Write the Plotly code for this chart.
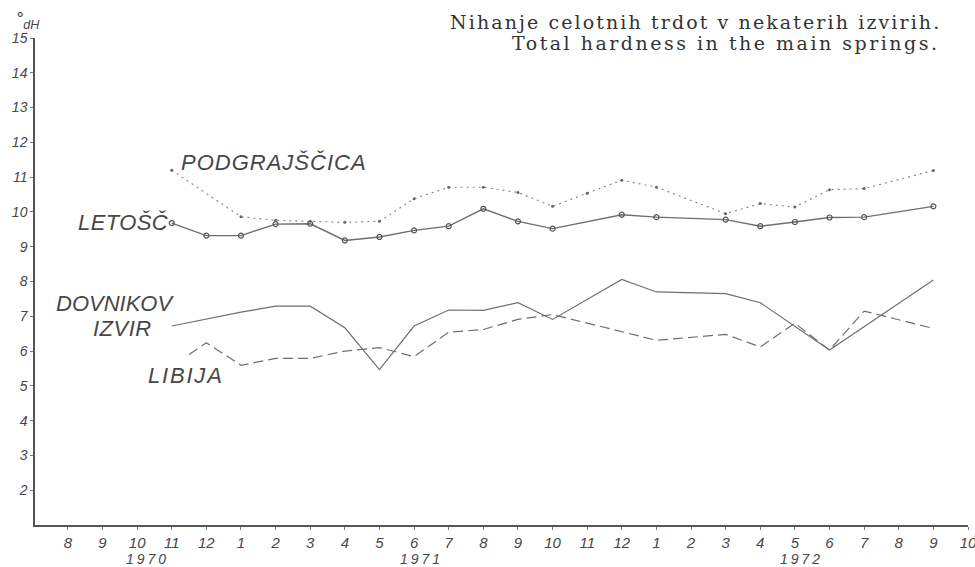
import plotly.graph_objects as go

# month ticks, Aug 1970 .. Oct 1972
month_labels = ["8", "9", "10", "11", "12",
                "1", "2", "3", "4", "5", "6", "7", "8", "9", "10", "11", "12",
                "1", "2", "3", "4", "5", "6", "7", "8", "9", "10"]
year_labels = ["1970", "1971", "1972"]
year_pos = [2.3, 10.2, 21.2]

# total hardness (°dH), x = month index from Aug 1970
podgrajscica_x = [3, 5, 6, 7, 8, 9, 10, 11, 12, 13, 14, 15, 16, 17, 19, 20, 21, 22, 23, 25]
podgrajscica_y = [11.2, 9.86, 9.76, 9.73, 9.70, 9.73, 10.38, 10.71, 10.71, 10.56,
                  10.16, 10.54, 10.91, 10.71, 9.95, 10.24, 10.14, 10.64, 10.67, 11.19]

letosc_x = [3, 4, 5, 6, 7, 8, 9, 10, 11, 12, 13, 14, 16, 17, 19, 20, 21, 22, 23, 25]
letosc_y = [9.68, 9.32, 9.32, 9.65, 9.66, 9.18, 9.28, 9.47, 9.59, 10.09,
            9.73, 9.52, 9.92, 9.85, 9.78, 9.59, 9.71, 9.84, 9.85, 10.16]

dovnikov_x = [3, 5, 6, 7, 8, 9, 10, 11, 12, 13, 14, 16, 17, 19, 20, 22, 25]
dovnikov_y = [6.72, 7.12, 7.29, 7.29, 6.67, 5.47, 6.72, 7.18, 7.17, 7.39,
              6.91, 8.06, 7.70, 7.65, 7.39, 6.03, 8.04]

libija_x = [3.5, 4, 5, 6, 7, 8, 9, 10, 11, 12, 13, 14, 17, 19, 20, 21, 22, 23, 25]
libija_y = [5.90, 6.24, 5.59, 5.79, 5.79, 6.0, 6.10, 5.84, 6.54, 6.62,
            6.91, 7.05, 6.31, 6.48, 6.12, 6.8, 6.03, 7.15, 6.65]

line_col = "#6f6f6f"
text_col = "#474747"
hand_font = "Liberation Sans"
serif_font = "DejaVu Serif"

# plot area in pixels (used to place the free text)
PL, PR, PT, PB = 35, 968, 38, 525


def px_x(px):
    return (px - PL) / (PR - PL)


def px_y(px):
    return (PB - px) / (PB - PT)


def spaced(txt, sp):
    return f'<span style="letter-spacing:{sp}px">{txt}</span>'


fig = go.Figure()

fig.add_trace(go.Scatter(
    x=podgrajscica_x, y=podgrajscica_y, mode="lines+markers",
    line=dict(color="#8a8a8a", width=1.2, dash="2px,4px"),
    marker=dict(size=3, color="#666666"),
))
fig.add_trace(go.Scatter(
    x=letosc_x, y=letosc_y, mode="lines+markers",
    line=dict(color=line_col, width=1.4),
    marker=dict(size=5, symbol="circle-open", color="#555555", line=dict(width=1.2)),
))
fig.add_trace(go.Scatter(
    x=dovnikov_x, y=dovnikov_y, mode="lines",
    line=dict(color=line_col, width=1.2),
))
fig.add_trace(go.Scatter(
    x=libija_x, y=libija_y, mode="lines",
    line=dict(color=line_col, width=1.2, dash="10px,5px"),
))

# series labels written on the chart: text, left px, centre px, letter spacing
labels = [
    ("PODGRAJŠČICA", 179, 162, 1),
    ("LETOŠČ", 76, 222, 0.4),
    ("DOVNIKOV", 54, 303, 0),
    ("IZVIR", 91, 328, 0.5),
    ("LIBIJA", 146, 375, 1.8),
]
for txt, x, y, sp in labels:
    fig.add_annotation(
        x=px_x(x), y=px_y(y), xref="paper", yref="paper",
        text=spaced(txt, sp), showarrow=False, xanchor="left", yanchor="middle",
        font=dict(family=hand_font, size=22, color=text_col, style="italic"),
    )

# year labels under the month ticks
for yr, pos in zip(year_labels, year_pos):
    fig.add_annotation(
        x=pos, y=0, yref="paper", text=spaced(yr, 3), showarrow=False,
        yanchor="top", yshift=-24,
        font=dict(family=hand_font, size=14, color=text_col, style="italic"),
    )

# unit
fig.add_annotation(
    x=px_x(14), xref="paper", xanchor="left", y=px_y(20), yref="paper", yanchor="middle",
    text="°<sub>dH</sub>", showarrow=False,
    font=dict(family=hand_font, size=18, color=text_col, style="italic"),
)

# title, two lines, right edges aligned
fig.add_annotation(
    x=px_x(448), xref="paper", y=px_y(22), yref="paper", xanchor="left", yanchor="middle",
    text=spaced("Nihanje celotnih trdot v nekaterih izvirih.", 2.1), showarrow=False,
    font=dict(family=serif_font, size=19, color="#333333"),
)
fig.add_annotation(
    x=px_x(510), xref="paper", y=px_y(43), yref="paper", xanchor="left", yanchor="middle",
    text=spaced("Total hardness in the main springs.", 2.5), showarrow=False,
    font=dict(family=serif_font, size=19, color="#333333"),
)

fig.update_xaxes(
    range=[-0.95, 26], tickmode="array", tickvals=list(range(len(month_labels))),
    ticktext=month_labels, showgrid=False, zeroline=False,
    showline=True, linecolor="#555555", linewidth=1.5,
    ticks="outside", ticklen=3, tickcolor="#777777",
    ticklabeloverflow="allow", automargin=False,
    tickfont=dict(family=hand_font, size=15, color=text_col, style="italic"),
)
fig.update_yaxes(
    range=[1, 15], tickmode="array", tickvals=list(range(2, 16)),
    showgrid=False, zeroline=False, automargin=False,
    showline=True, linecolor="#555555", linewidth=1.5,
    ticks="outside", ticklen=3, tickcolor="#777777",
    tickfont=dict(family=hand_font, size=14, color=text_col, style="italic"),
)

fig.update_layout(
    width=975, height=567,
    margin=dict(l=PL, r=975 - PR, t=PT, b=567 - PB),
    showlegend=False,
    paper_bgcolor="white", plot_bgcolor="white",
)

# page body has an 8px margin by default; drop it so the figure sits at 0,0
fig.write_html(
    "out.html",
    config={"displayModeBar": False},
    post_script="document.body.style.margin='0px';",
)
